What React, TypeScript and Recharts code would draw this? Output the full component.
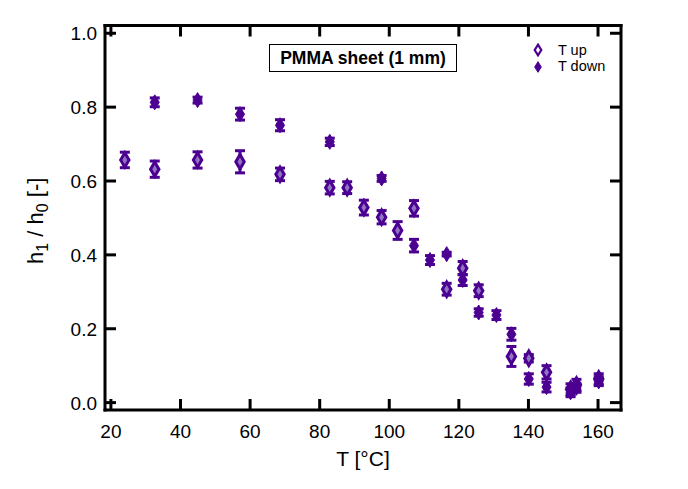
import React from 'react';
import { ScatterChart, Scatter, XAxis, YAxis, ErrorBar, Legend } from 'recharts';

const upT = [24.0, 32.6, 44.9, 57.1, 68.6, 82.9, 87.9, 92.7, 97.8, 102.4, 107.1, 116.5, 121.1, 125.7, 135.1, 140.1, 145.2, 152.1, 153.8, 160.2];
const upH = [0.657, 0.632, 0.657, 0.652, 0.618, 0.582, 0.582, 0.528, 0.502, 0.466, 0.526, 0.307, 0.364, 0.303, 0.125, 0.120, 0.082, 0.036, 0.048, 0.064];
const upErr = [0.021, 0.022, 0.022, 0.030, 0.017, 0.017, 0.016, 0.020, 0.018, 0.024, 0.021, 0.016, 0.018, 0.016, 0.027, 0.010, 0.018, 0.015, 0.015, 0.014];

const downT = [32.6, 44.9, 57.1, 68.6, 82.9, 97.8, 107.1, 111.7, 116.5, 121.1, 125.7, 130.8, 135.1, 140.1, 145.2, 152.1, 153.8, 160.2];
const downH = [0.813, 0.819, 0.781, 0.751, 0.706, 0.607, 0.425, 0.386, 0.402, 0.332, 0.244, 0.237, 0.185, 0.064, 0.042, 0.028, 0.040, 0.058];
const downErr = [0.012, 0.008, 0.016, 0.015, 0.010, 0.008, 0.017, 0.012, 0.005, 0.015, 0.010, 0.012, 0.016, 0.014, 0.013, 0.012, 0.012, 0.012];

const xTicks = [20, 40, 60, 80, 100, 120, 140, 160];
const yTicks = [0, 0.2, 0.4, 0.6, 0.8, 1.0];
const legendItems = [
  { label: 'T up', open: true },
  { label: 'T down', open: false },
];
const titleText = 'PMMA sheet (1 mm)';

const upData = upT.map((t, i) => ({ x: t, y: upH[i], err: upErr[i] }));
const downData = downT.map((t, i) => ({ x: t, y: downH[i], err: downErr[i] }));

const C = '#4B0092';
const CL = '#8f74c2';
const F = '"Liberation Sans", Arial, sans-serif';

const diamondPath = (cx: number, cy: number, hw: number, hh: number) =>
  `M${cx},${cy - hh} L${cx + hw},${cy} L${cx},${cy + hh} L${cx - hw},${cy} Z`;

const OpenDiamond = (props: any) => {
  const { cx, cy } = props;
  if (cx == null || cy == null) return null;
  return <path d={diamondPath(cx, cy, 4.2, 7.2)} fill={CL} stroke={C} strokeWidth={3} />;
};
const FilledDiamond = (props: any) => {
  const { cx, cy } = props;
  if (cx == null || cy == null) return null;
  return <path d={diamondPath(cx, cy, 4.5, 7.5)} fill={C} stroke={C} strokeWidth={1} />;
};

const BottomTick = (props: any) => {
  const { x, y, payload } = props;
  return (
    <g>
      <line x1={x} y1={y} x2={x} y2={y - 11} stroke="#000" strokeWidth={3} />
      <text x={x} y={y + 28} textAnchor="middle" fontSize={19} fontFamily={F} fill="#000">
        {payload.value}
      </text>
    </g>
  );
};
const TopTick = (props: any) => {
  const { x, y } = props;
  return <line x1={x} y1={y} x2={x} y2={y + 11} stroke="#000" strokeWidth={3} />;
};
const LeftTick = (props: any) => {
  const { x, y, payload } = props;
  return (
    <g>
      <line x1={x} y1={y} x2={x + 11} y2={y} stroke="#000" strokeWidth={3} />
      <text x={x - 8} y={y + 7} textAnchor="end" fontSize={19} fontFamily={F} fill="#000">
        {Number(payload.value).toFixed(1)}
      </text>
    </g>
  );
};
const RightTick = (props: any) => {
  const { x, y } = props;
  return <line x1={x} y1={y} x2={x - 11} y2={y} stroke="#000" strokeWidth={3} />;
};

const renderXLabel = (props: any) => {
  const vb = props.viewBox || {};
  const cx = vb.x + vb.width / 2;
  return (
    <text x={cx} y={vb.y + 56} textAnchor="middle" fontSize={21} fontFamily={F} fill="#000">
      T [°C]
    </text>
  );
};
const renderYLabel = (props: any) => {
  const vb = props.viewBox || {};
  const bx = vb.x - 2;
  const cy = vb.y + vb.height / 2 + 3;
  return (
    <text x={bx} y={cy} transform={`rotate(-90 ${bx} ${cy})`} textAnchor="middle" fontSize={22} fontFamily={F} fill="#000">
      h<tspan fontSize={16} dy={5}>1</tspan>
      <tspan dy={-5}> / h</tspan>
      <tspan fontSize={16} dy={5}>0</tspan>
      <tspan dy={-5}> [-]</tspan>
    </text>
  );
};

const renderLegend = () => (
  <div style={{ fontFamily: F, fontSize: 14.5, color: '#000' }}>
    {legendItems.map((it) => (
      <div key={it.label} style={{ display: 'flex', alignItems: 'center', height: 16.7 }}>
        <svg width={14} height={14} style={{ marginRight: 13.3, flex: 'none' }}>
          <path
            d={diamondPath(7, 7, 3.3, 5.3)}
            fill={it.open ? '#fff' : C}
            stroke={C}
            strokeWidth={it.open ? 2.2 : 1}
          />
        </svg>
        <span style={{ lineHeight: '16.7px', whiteSpace: 'nowrap' }}>{it.label}</span>
      </div>
    ))}
  </div>
);

const axisLineStyle = { stroke: '#000', strokeWidth: 3, strokeLinecap: 'square' as const };

export default function App() {
  return (
    <div style={{ position: 'relative', width: 672, height: 473 }}>
      <ScatterChart width={672} height={473} margin={{ top: 12.5, right: 49, bottom: 31, left: 37 }}>
        <XAxis
          xAxisId="b"
          type="number"
          dataKey="x"
          domain={[18.3, 166.6]}
          ticks={xTicks}
          interval={0}
          allowDataOverflow
          height={40}
          tickSize={0}
          tickMargin={0}
          axisLine={axisLineStyle}
          tickLine={false}
          tick={<BottomTick />}
          label={{ content: renderXLabel }}
        />
        <XAxis
          xAxisId="t"
          orientation="top"
          type="number"
          dataKey="x"
          domain={[18.3, 166.6]}
          ticks={xTicks}
          interval={0}
          allowDataOverflow
          height={5}
          tickSize={0}
          tickMargin={0}
          axisLine={axisLineStyle}
          tickLine={false}
          tick={<TopTick />}
        />
        <YAxis
          yAxisId="l"
          type="number"
          dataKey="y"
          domain={[-0.02, 1.021]}
          ticks={yTicks}
          interval={0}
          allowDataOverflow
          width={60}
          tickSize={0}
          tickMargin={0}
          axisLine={axisLineStyle}
          tickLine={false}
          tick={<LeftTick />}
          label={{ content: renderYLabel }}
        />
        <YAxis
          yAxisId="r"
          orientation="right"
          type="number"
          dataKey="y"
          domain={[-0.02, 1.021]}
          ticks={yTicks}
          interval={0}
          allowDataOverflow
          width={10}
          tickSize={0}
          tickMargin={0}
          axisLine={axisLineStyle}
          tickLine={false}
          tick={<RightTick />}
        />
        <Legend
          verticalAlign="middle"
          layout="horizontal"
          content={renderLegend}
          wrapperStyle={{ left: 522.7, top: 33.6, width: 120 }}
        />
        <Scatter name="T up" data={upData} xAxisId="b" yAxisId="l" shape={<OpenDiamond />} isAnimationActive={false}>
          <ErrorBar dataKey="err" direction="y" width={5} strokeWidth={3} stroke={C} />
        </Scatter>
        <Scatter name="T down" data={downData} xAxisId="b" yAxisId="l" shape={<FilledDiamond />} isAnimationActive={false}>
          <ErrorBar dataKey="err" direction="y" width={5} strokeWidth={3} stroke={C} />
        </Scatter>
      </ScatterChart>
      <div
        style={{
          position: 'absolute',
          left: 261,
          top: 36,
          width: 188,
          height: 28,
          boxSizing: 'border-box',
          border: '1.2px solid #000',
          background: '#fff',
          display: 'flex',
          alignItems: 'center',
          justifyContent: 'center',
          fontFamily: F,
          fontWeight: 'bold',
          fontSize: 17.5,
          color: '#000',
          whiteSpace: 'nowrap',
        }}
      >
        {titleText}
      </div>
    </div>
  );
}
